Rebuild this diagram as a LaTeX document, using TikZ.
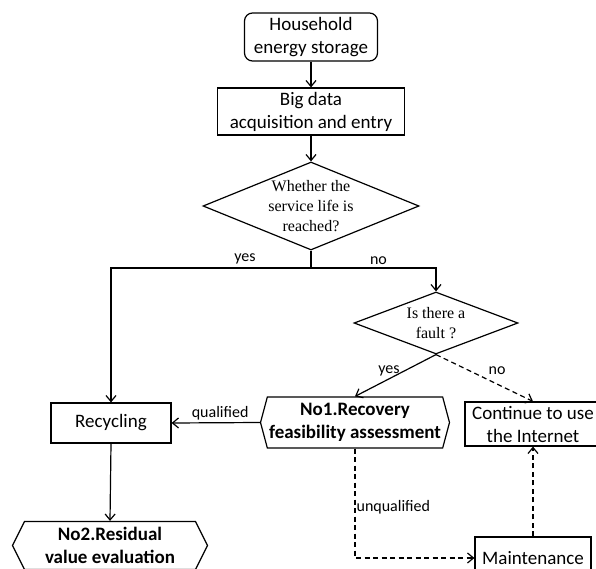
\documentclass[tikz,border=0pt]{standalone}
\usepackage{fontspec}
\setmainfont{Carlito}
\newfontfamily\timesfont{Liberation Serif}
\usetikzlibrary{shapes.geometric,shapes.symbols,arrows.meta}

\begin{document}
\begin{tikzpicture}[x=1pt,y=-1pt,line width=1.2pt,
  >={Straight Barb[length=6pt,width=10pt]},
  box/.style={draw,rectangle,align=center,inner sep=0pt,font=\fontsize{19}{23}\selectfont},
  ask/.style={draw,diamond,align=center,inner sep=0pt,font=\timesfont\fontsize{16}{20}\selectfont},
  hexa/.style={draw,signal,signal to=west and east,align=center,inner sep=0pt,font=\bfseries\fontsize{19}{23}\selectfont},
  lab/.style={font=\fontsize{16}{19}\selectfont,inner sep=1pt},
  dashline/.style={dash pattern=on 5pt off 3.5pt}]
\useasboundingbox (0,0) rectangle (596,569);
\clip (0,0) rectangle (596,569);
\fill[white] (0,0) rectangle (596,569);

% top of the chart
\node[box,rounded corners=8pt,minimum width=133,minimum height=48] (home) at (311,37) {Household\\energy storage};
\node[box,minimum width=187,minimum height=47] (data) at (311,111.5) {Big data\\acquisition and entry};
\node[ask,aspect=2.45,minimum width=216,minimum height=88] (life) at (311,206) {Whether the\\service life is\\reached?};
\coordinate (split) at (311,268);

\draw[->] (home) -- (data);
\draw[->] (data) -- (life);
\draw (life.south) -- (split);

%%%
\node[ask,aspect=2.65,minimum width=164,minimum height=62] (fault) at (436,323) {Is there a\\fault ?};
\node[box,minimum width=120,minimum height=40] (recyc) at (111,423) {Recycling};
\node[hexa,minimum width=189,minimum height=51,signal pointer angle=150] (no1) at (355,422.5) {No1.Recovery\\feasibility assessment};
\node[box,minimum width=136,minimum height=44] (cont) at (533,424) {Continue to use\\the Internet};

\draw[->] (split) -| (recyc.north) node[lab,pos=0.165,above=2pt] {yes};
\draw[->] (split) -| (fault.north) node[lab,pos=0.27,above=2pt] {no};
\draw[->] (fault.south) -- (no1.north) node[lab,pos=0.58,above=1pt] {yes};
\draw[->,dashline] (fault.south) -- (cont.north) node[lab,pos=0.63,above=8pt] {no};

%%%
\node[box,minimum width=116,minimum height=42] (maint) at (533,558) {Maintenance};
\node[hexa,minimum width=195,minimum height=48,signal pointer angle=127] (no2) at (110,545.5) {No2.Residual\\value evaluation};

\draw[->] (no1.west) -- (recyc.east) node[lab,pos=0.45,above=1pt] {qualified};
\draw[->] (recyc.south) -- (no2.north);
\draw[->,dashline] (no1.south) |- (maint.west) node[lab,pos=0.27,right=0pt] {unqualified};
\draw[->,dashline] (maint.north) -- (cont.south);

\end{tikzpicture}
\end{document}
